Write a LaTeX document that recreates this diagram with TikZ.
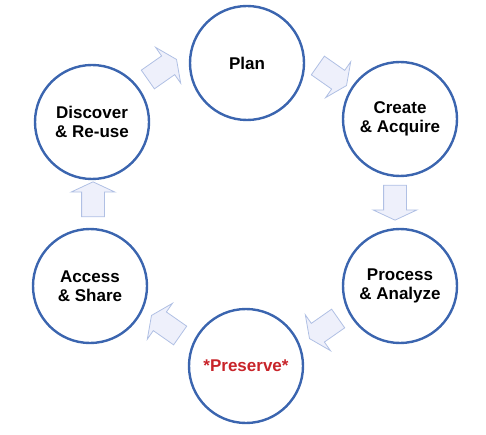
\documentclass[tikz,border=0pt]{standalone}
\usepackage{fontspec}
\setmainfont{Liberation Sans}
\usetikzlibrary{shapes.arrows}
\definecolor{ringblue}{RGB}{59,101,175}
\definecolor{arrowfill}{RGB}{238,240,251}
\definecolor{arrowline}{RGB}{176,192,228}
\definecolor{keepred}{RGB}{200,36,42}
\begin{document}
\begin{tikzpicture}[x=1pt,y=-1pt,
    stage/.style={circle,draw=ringblue,line width=2.4pt,minimum size=114pt,inner sep=0pt,align=center,font=\fontsize{17}{19.5}\selectfont\bfseries},
    blockarrow/.style={single arrow,draw=arrowline,fill=arrowfill,line width=0.8pt,minimum height=35pt,inner xsep=0pt,inner ysep=11pt,single arrow head extend=10.5pt,single arrow tip angle=130}]
            \useasboundingbox (0,0) rectangle (486,435);
            \node[stage] (plan) at (247,63) {Plan};
            \node[stage] (create) at (400,119) {Create\\ \& Acquire};
            \node[stage] (process) at (400,286) {Process\\ \& Analyze};
            \node[stage,text=keepred] (preserve) at (246,366) {*Preserve*};
            \node[stage] (access) at (90,286) {Access\\ \& Share};
            \node[stage] (discover) at (92,122) {Discover\\ \& Re-use};
            \node[blockarrow,rotate=-35] (planarrow) at (330,74) {};
            \node[blockarrow,rotate=-90] (createarrow) at (395,200) {};
            \node[blockarrow,rotate=-145] (processarrow) at (326,327) {};
            \node[blockarrow,rotate=145] (preservearrow) at (168,327) {};
            \node[blockarrow,rotate=90] (accessarrow) at (93,202) {};
            \node[blockarrow,rotate=35] (discoverarrow) at (160,71) {};
        \end{tikzpicture}
\end{document}
